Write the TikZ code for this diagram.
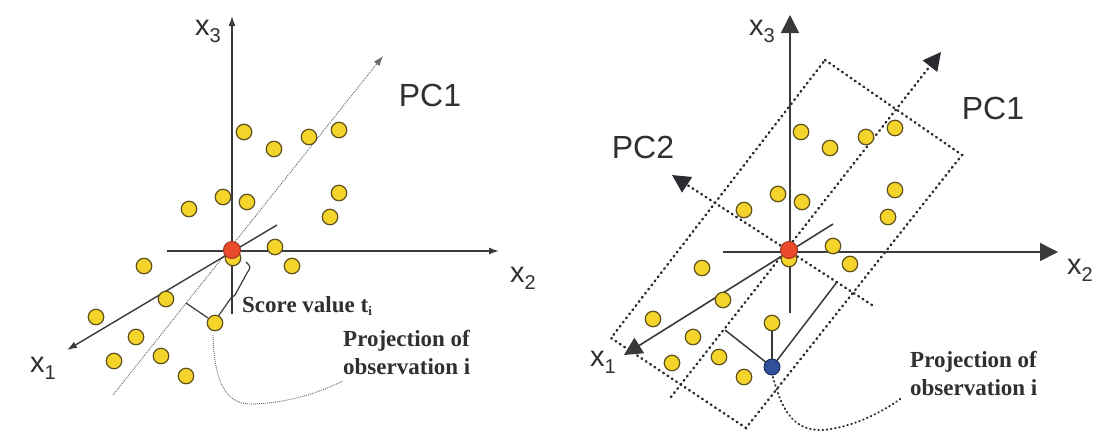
\documentclass[tikz,border=0pt]{standalone}
\usepackage{fontspec}
\setmainfont{Liberation Serif}
\newfontfamily\lsans{Liberation Sans}
\usetikzlibrary{arrows.meta}
\definecolor{axisgray}{HTML}{3A3A3A}
\definecolor{dotgray}{HTML}{2A2A30}
\definecolor{pcgray}{HTML}{6A6A6A}
\definecolor{dotyellow}{HTML}{F4D42A}
\definecolor{dotedge}{HTML}{5E501C}
\definecolor{dotred}{HTML}{EC4A2C}
\definecolor{dotblue}{HTML}{2F4F9A}
\definecolor{txtgray}{HTML}{303030}
\newcommand\axsub[1]{\raisebox{-0.45ex}{\fontsize{20}{20}\selectfont #1}}
\newcommand\axlab[1]{{\lsans\fontsize{29}{29}\selectfont x\axsub{#1}}}
\begin{document}
\begin{tikzpicture}[x=1pt,y=-1pt,
  obs/.style={circle,fill=dotyellow,draw=dotedge,line width=1.2pt,minimum size=15.5pt,inner sep=0pt},
  orig/.style={circle,fill=dotred,draw=dotred!70!black,line width=1pt,minimum size=17pt,inner sep=0pt},
  proj/.style={circle,fill=dotblue,draw=dotblue!60!black,line width=1pt,minimum size=16pt,inner sep=0pt},
  laxis/.style={draw=axisgray,line width=1.4pt},
  raxis/.style={draw=axisgray,line width=1.6pt},
  ltip/.style={-{Latex[length=10pt,width=7pt]}},
  rtip/.style={-{Triangle[length=18pt,width=18pt]}},
  lpc/.style={draw=pcgray,line width=0.9pt,dash pattern=on 1pt off 1pt},
  rdots/.style={draw=dotgray,line width=2.5pt,line cap=round,dash pattern=on 0.8pt off 4.4pt},
  lbl/.style={inner sep=0pt,text=txtgray},
  pclbl/.style={inner sep=0pt,text=txtgray,font=\lsans\fontsize{32}{32}\selectfont},
  note/.style={inner sep=0pt,text=txtgray,align=left,font=\bfseries\fontsize{23}{28}\selectfont}
]
\useasboundingbox[fill=white] (0,0) rectangle (1100,437);

% ================= LEFT PANEL =================
\coordinate (LO) at (232,250);
\coordinate (Lx3b) at (232,314);
\coordinate (Lx3) at (232,16);
\coordinate (Lx2a) at (167,251);
\coordinate (Lx2) at (499,251);
\coordinate (Lx1a) at (277,225);
\coordinate (Lx1) at (67,350);
\coordinate (Lpc1a) at (113,395);
\coordinate (Lpc1) at (383,56);

\draw[lpc,ltip] (Lpc1a) -- (Lpc1);
\draw[laxis,ltip] (Lx3b) -- (Lx3);
\draw[laxis,ltip] (Lx2a) -- (Lx2);
\draw[laxis,ltip] (Lx1a) -- (Lx1);

% score value bracket
\coordinate (Lf1) at (186,303);
\coordinate (Lf2) at (208,318);
\coordinate (Lb1) at (217,318);
\coordinate (Lb2) at (231,298);
\coordinate (Lb3) at (235,295);
\coordinate (Lb4) at (247,273);
\coordinate (Lb5) at (246,262);
\draw[laxis,line width=1.2pt] (Lf1) -- (Lf2);
\draw[laxis,line width=1.2pt] (Lb1) -- (Lb2) -- (Lb3) -- (Lb4) .. controls (251,267) .. (Lb5);

\node[note,anchor=west] (Lscore) at (242,306) {Score value t\raisebox{-0.3ex}{\fontsize{13}{13}\selectfont i}};
\node[note,anchor=north west] (Lproj) at (343,330) {Projection of\\observation i};

% observations (left)
\foreach \p [count=\i] in {{244,132},{274,149},{309,137},{339,130},{339,193},{330,217},
  {223,197},{247,202},{189,209},{275,247},{292,266},{233,258},{144,266},{166,299},
  {96,317},{136,337},{215,323},{114,361},{161,356},{186,376}}
  \node[obs] (L\i) at (\p) {};
\node[orig] (Lred) at (LO) {};

\coordinate (Lc1) at (213,335);
\coordinate (Lc2) at (252,404);
\coordinate (Lc3) at (343,381);
\draw[lpc] (Lc1) .. controls (214,385) and (228,405) .. (Lc2) .. controls (290,403) and (320,392) .. (Lc3);

\node[lbl] (Lx3l) at (208,31) {\axlab{3}};
\node[lbl] (Lx2l) at (523,278) {\axlab{2}};
\node[lbl] (Lx1l) at (43,368) {\axlab{1}};
\node[pclbl] (Lpc1l) at (430,95) {PC1};

% ================= RIGHT PANEL =================
\coordinate (RO) at (789,250);
\coordinate (Rx3b) at (790,313);
\coordinate (Rx3) at (790,15);
\coordinate (Rx2a) at (723,252);
\coordinate (Rx2) at (1058,252);
\coordinate (Rx1a) at (833,224);
\coordinate (Rx1) at (624,355);
\coordinate (Rpc1a) at (671,397);
\coordinate (Rpc1) at (941,52);
\coordinate (Rpc2a) at (872,305);
\coordinate (Rpc2) at (672,175);

\coordinate (Rk1) at (825,60);
\coordinate (Rk2) at (962,155);
\coordinate (Rk3) at (746,428);
\coordinate (Rk4) at (611,338);
\draw[rdots] (Rk1) -- (Rk2) -- (Rk3) -- (Rk4) -- cycle;

\draw[rdots,rtip] (Rpc1a) -- (Rpc1);
\draw[rdots,rtip] (Rpc2a) -- (Rpc2);
\draw[raxis,rtip] (Rx3b) -- (Rx3);
\draw[raxis,rtip] (Rx2a) -- (Rx2);
\draw[raxis,rtip] (Rx1a) -- (Rx1);

\coordinate (Rf1) at (725,330);
\coordinate (Rf2) at (837,282);
\coordinate (Rbl) at (772,367);
\draw[raxis,line width=1.5pt] (Rf1) -- (Rbl) -- (Rf2);

\foreach \p [count=\i] in {{801,132},{830,148},{866,137},{895,128},{895,190},{888,217},
  {778,194},{802,202},{744,210},{833,246},{850,264},{789,259},{702,268},{723,300},
  {653,319},{693,337},{672,363},{719,357},{744,377},{772,323}}
  \node[obs] (R\i) at (\p) {};
\draw[raxis,line width=1.5pt] (Rbl) -- (R20);
\node[proj] (Rblue) at (Rbl) {};
\node[orig] (Rred) at (RO) {};

\coordinate (Rc1) at (773,377);
\coordinate (Rc2) at (822,430);
\coordinate (Rc3) at (903,397);
\draw[rdots,line width=2pt,dash pattern=on 0.6pt off 3.6pt] (Rc1) .. controls (782,412) and (795,431) .. (Rc2) .. controls (850,428) and (880,414) .. (Rc3);

\node[note,anchor=north west] (Rproj) at (910,351) {Projection of\\observation i};

\node[lbl] (Rx3l) at (762,31) {\axlab{3}};
\node[lbl] (Rx2l) at (1080,270) {\axlab{2}};
\node[lbl] (Rx1l) at (603,362) {\axlab{1}};
\node[pclbl] (Rpc1l) at (993,108) {PC1};
\node[pclbl] (Rpc2l) at (643,147) {PC2};
\end{tikzpicture}
\end{document}
